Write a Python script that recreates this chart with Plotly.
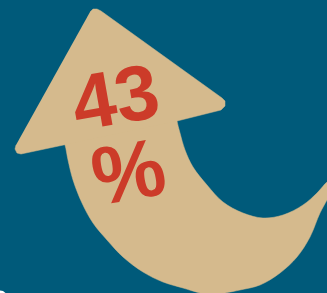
import plotly.graph_objects as go

# ---- data ----
value = 43
value_label = f"{value}"
unit_label = "%"

# arrow head outline (pixel space, y down)
head_x = [90, 93, 97, 101, 222, 225, 225, 221, 177, 65, 21, 17, 15, 16]
head_y = [12, 9, 9, 11, 98, 101, 106, 110, 121, 145, 154, 153, 149, 145]

# curved shaft outline (smoothed)
body_x = [62, 65, 68, 73, 82, 93, 107, 123, 143, 163, 183, 200, 212, 225, 240, 260, 280, 297,
          310, 320, 327, 333, 336,
          331, 327, 317, 303, 283, 263, 243, 223, 207, 193, 185, 180, 177, 176]
body_y = [138, 145, 160, 180, 203, 223, 240, 257, 272, 282, 288, 293, 295, 293, 290, 285, 273, 257,
          237, 213, 200, 188, 181,
          180, 182, 193, 205, 215, 218, 213, 202, 185, 167, 150, 133, 121, 112]

# small white corner shape bottom-left
corner_x = [-2, 3, 8, -2]
corner_y = [290, 291, 295, 295]

BG = "#005A7A"
BEIGE = "#D5BA8D"
RED = "#CC3B29"

fig = go.Figure()
fig.add_trace(go.Scatter(x=body_x, y=body_y, fill="toself", fillcolor=BEIGE, mode="lines",
                         line=dict(color=BEIGE, width=0.5, shape="spline", smoothing=1),
                         hoverinfo="skip", showlegend=False))
fig.add_trace(go.Scatter(x=head_x, y=head_y, fill="toself", fillcolor=BEIGE, mode="lines",
                         line=dict(color=BEIGE, width=0.5),
                         hoverinfo="skip", showlegend=False))
fig.add_trace(go.Scatter(x=corner_x, y=corner_y, fill="toself", fillcolor="#FFFFFF", mode="lines",
                         line=dict(color="#FFFFFF", width=0),
                         hoverinfo="skip", showlegend=False))

fig.add_annotation(x=115, y=97, text=f"<b>{value_label}</b>", showarrow=False, textangle=-10,
                   xanchor="center", yanchor="middle",
                   font=dict(family="Liberation Sans", size=78, color=RED))
fig.add_annotation(x=128, y=171, text=f"<b>{unit_label}</b>", showarrow=False, textangle=-10,
                   xanchor="center", yanchor="middle",
                   font=dict(family="Liberation Sans", size=82, color=RED))

fig.update_layout(width=327, height=293, margin=dict(l=0, r=0, t=0, b=0),
                  paper_bgcolor=BG, plot_bgcolor=BG,
                  xaxis=dict(range=[0, 327], visible=False, fixedrange=True),
                  yaxis=dict(range=[293, 0], visible=False, fixedrange=True))

fig.write_html("out.html", config={"displayModeBar": False},
               post_script="document.body.style.margin='0';document.body.style.overflow='hidden';")
